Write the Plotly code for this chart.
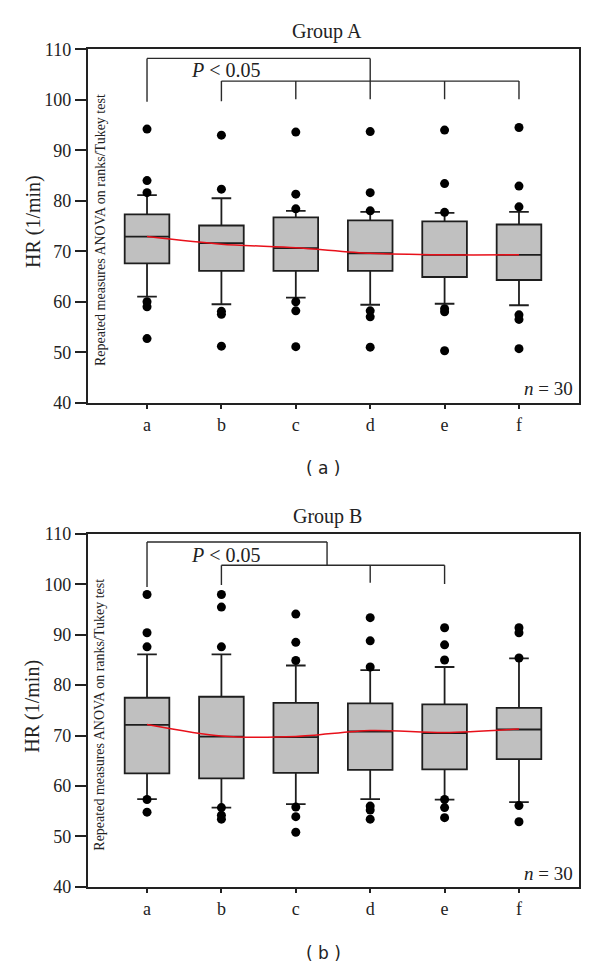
import plotly.graph_objects as go

# ---------------- data ----------------
cats = ["a", "b", "c", "d", "e", "f"]
xpos = [1, 2, 3, 4, 5, 6]

# Group A
A_q1 = [67.6, 66.1, 66.1, 66.1, 64.9, 64.3]
A_med = [72.9, 71.6, 70.6, 69.6, 69.3, 69.3]
A_q3 = [77.3, 75.1, 76.7, 76.1, 75.9, 75.3]
A_lo = [61.0, 59.5, 60.8, 59.4, 59.6, 59.3]
A_hi = [81.1, 80.5, 78.0, 77.8, 77.6, 77.8]
A_mean = [72.9, 71.4, 70.7, 69.6, 69.3, 69.3]
A_out = [
    [94.2, 84.0, 81.6, 60.0, 59.0, 52.7],
    [93.0, 82.3, 58.1, 57.5, 51.2],
    [93.6, 81.3, 78.4, 60.0, 58.2, 51.1],
    [93.7, 81.6, 78.0, 58.2, 57.0, 51.0],
    [94.0, 83.4, 77.7, 58.6, 58.0, 50.3],
    [94.5, 82.9, 78.8, 57.4, 56.5, 50.7],
]

# Group B
B_q1 = [62.5, 61.5, 62.6, 63.2, 63.3, 65.3]
B_med = [72.1, 69.8, 69.7, 70.8, 70.5, 71.2]
B_q3 = [77.5, 77.7, 76.5, 76.4, 76.2, 75.5]
B_lo = [57.4, 55.7, 56.4, 57.4, 57.3, 56.8]
B_hi = [86.1, 86.1, 83.9, 83.0, 83.6, 85.3]
B_mean = [72.2, 69.9, 69.8, 71.0, 70.6, 71.3]
B_out = [
    [98.0, 90.4, 87.6, 57.3, 54.8],
    [98.0, 95.5, 87.6, 55.7, 54.2, 53.4],
    [94.1, 88.5, 84.9, 55.8, 53.9, 50.8],
    [93.4, 88.8, 83.6, 56.0, 55.2, 53.4],
    [91.4, 88.0, 85.0, 57.3, 55.7, 53.7],
    [91.4, 90.4, 85.4, 56.1, 52.9],
]

# significance brackets: (level, x_from, x_to, [(x, drop_to), ...])
A_brackets = [
    (108.2, 1, 4, [(1, 99.6), (4, 100.1)]),
    (103.7, 2, 6, [(2, 99.7), (3, 100.1), (5, 100.1), (6, 100.1)]),
]
B_brackets = [
    (108.4, 1, 3.42, [(1, 99.5), (3.42, 103.8)]),
    (103.8, 2, 5, [(2, 99.9), (4, 100.3), (5, 100.1)]),
]

SERIF = "Liberation Serif"
OFF = 8                      # default page body margin
W, H = 600 - OFF, 969 - OFF  # figure size fitting inside the window


def fx(px):
    return (px - OFF) / W


def fy(py):
    return 1 - (py - OFF) / H


fig = go.Figure()
shapes = []
annotations = []


def add_panel(ax, q1, med, q3, lo, hi, mean, outs, brackets):
    xa = "x" if ax == 1 else "x2"
    ya = "y" if ax == 1 else "y2"
    fig.add_trace(go.Box(
        x=xpos, q1=q1, median=med, q3=q3, lowerfence=lo, upperfence=hi,
        width=0.6, whiskerwidth=0.44, fillcolor="#c0c0c0",
        line=dict(color="#1e1e1e", width=1.8), boxpoints=False,
        xaxis=xa, yaxis=ya, hoverinfo="skip"))
    ox, oy = [], []
    for xv, vals in zip(xpos, outs):
        for v in vals:
            ox.append(xv)
            oy.append(v)
    fig.add_trace(go.Scatter(x=ox, y=oy, mode="markers",
                             marker=dict(color="black", size=9),
                             xaxis=xa, yaxis=ya))
    fig.add_trace(go.Scatter(x=xpos, y=mean, mode="lines",
                             line=dict(color="#e8101a", width=1.5, shape="spline", smoothing=0.8),
                             xaxis=xa, yaxis=ya))
    for level, x0, x1, drops in brackets:
        shapes.append(dict(type="line", xref=xa, yref=ya, x0=x0, x1=x1, y0=level, y1=level,
                           line=dict(color="#2a2a2a", width=1.4)))
        for xd, yd in drops:
            shapes.append(dict(type="line", xref=xa, yref=ya, x0=xd, x1=xd, y0=level, y1=yd,
                               line=dict(color="#2a2a2a", width=1.4)))


add_panel(1, A_q1, A_med, A_q3, A_lo, A_hi, A_mean, A_out, A_brackets)
add_panel(2, B_q1, B_med, B_q3, B_lo, B_hi, B_mean, B_out, B_brackets)

xdom = [fx(87.5), fx(578.5)]
ydomA = [fy(402.7), fy(49.3)]
ydomB = [fy(886.7), fy(534.0)]

axis_common = dict(showline=True, mirror=True, linecolor="#222", linewidth=1.5,
                   showgrid=False, zeroline=False, ticks="outside", tickcolor="#222",
                   tickwidth=1.5, automargin=False,
                   tickfont=dict(family=SERIF, size=18, color="#222"))

fig.update_layout(
    template="none",
    width=W, height=H, margin=dict(l=0, r=0, t=0, b=0, pad=0, autoexpand=False),
    paper_bgcolor="white", plot_bgcolor="white", showlegend=False,
    xaxis=dict(domain=xdom, range=[0.2, 6.8], tickvals=xpos, ticktext=cats,
               ticklen=5, anchor="y", **axis_common),
    yaxis=dict(domain=ydomA, range=[40, 110], dtick=10, ticklen=11, anchor="x",
               **axis_common),
    xaxis2=dict(domain=xdom, range=[0.2, 6.8], tickvals=xpos, ticktext=cats,
                ticklen=5, anchor="y2", **axis_common),
    yaxis2=dict(domain=ydomB, range=[40, 110], dtick=10, ticklen=11, anchor="x2",
                **axis_common),
)


def px_ann(text, x, y, size, family=SERIF, angle=0, xanchor="center"):
    annotations.append(dict(text=text, xref="paper", yref="paper", x=fx(x), y=fy(y),
                            showarrow=False, textangle=angle, xanchor=xanchor, yanchor="middle",
                            font=dict(family=family, size=size, color="#222")))


for top, title, lab in [(0, "Group A", "( a )"), (484.7, "Group B", "( b )")]:
    px_ann(title, 327, 32 + top, 20)
    px_ann("<i>P</i> &lt; 0.05", 226, 70 + top, 20)
    px_ann("HR (1/min)", 33, 222 + top, 20, angle=-90)
    px_ann("Repeated measures ANOVA on ranks/Tukey test", 100, 230 + top, 14, angle=-90)
    px_ann("<i>n</i> = 30", 575, 389 + top, 19, xanchor="right")
    px_ann(lab, 323, 468 + top, 17, family="DejaVu Sans")

fig.update_layout(shapes=shapes, annotations=annotations)
fig.write_html("out.html")
